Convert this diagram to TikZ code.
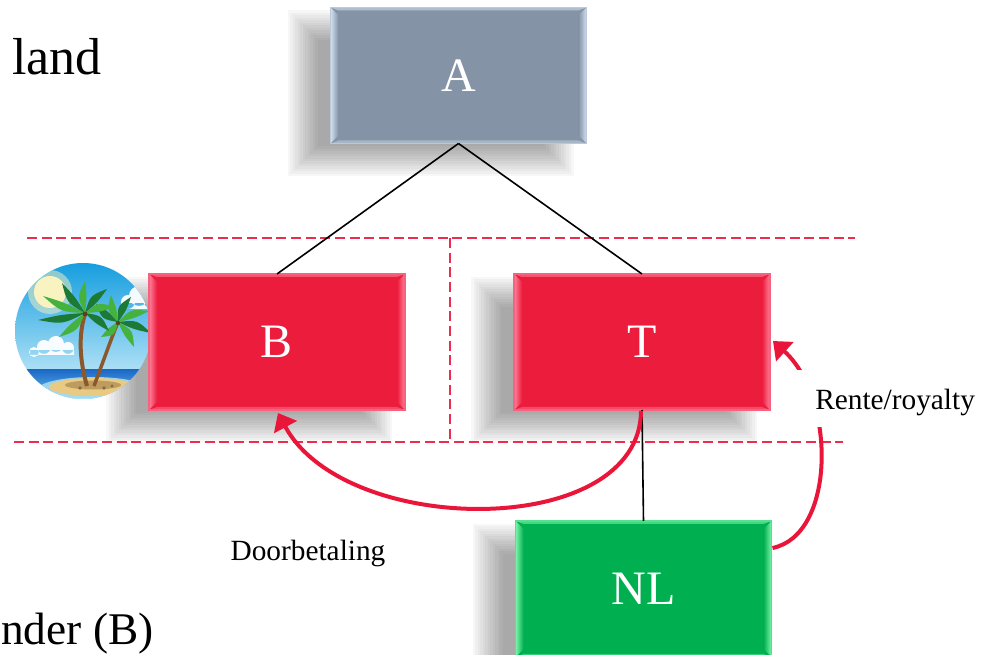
\documentclass[tikz,border=0pt]{standalone}
\usepackage{fontspec}
\setmainfont{Liberation Serif}
\usetikzlibrary{arrows.meta,calc,backgrounds}

% box colours
\definecolor{slate}{RGB}{132,148,166}
\definecolor{slatelight}{RGB}{210,224,240}
\definecolor{crimson}{RGB}{236,28,61}
\definecolor{crimsonlight}{RGB}{252,130,155}
\definecolor{leaf}{RGB}{0,176,80}
\definecolor{leaflight}{RGB}{125,245,170}
\definecolor{flowred}{RGB}{233,22,58}
\definecolor{borderred}{RGB}{236,45,78}
% island colours
\definecolor{skytop}{RGB}{15,155,222}
\definecolor{skylow}{RGB}{175,225,246}
\definecolor{sunfill}{RGB}{248,243,192}
\definecolor{seadeep}{RGB}{28,105,200}
\definecolor{seashallow}{RGB}{125,212,242}
\definecolor{sand}{RGB}{233,202,130}
\definecolor{sanddark}{RGB}{190,155,95}
\definecolor{bark}{RGB}{138,88,44}
\definecolor{palm}{RGB}{70,178,62}
\definecolor{palmdark}{RGB}{28,122,52}

\tikzset{
  entity/.style={rectangle, minimum width=192pt, minimum height=102pt,
    inner sep=0pt, outer sep=0pt, text=white, font=\fontsize{36}{40}\selectfont},
  tie/.style={draw=black, line width=1.2pt},
  border/.style={draw=borderred, line width=1.4pt, dash pattern=on 7.5pt off 3.5pt},
  flow/.style={draw=flowred, line width=3pt, -{Triangle[length=12pt,width=19pt]}},
  note/.style={font=\fontsize{22}{26}\selectfont, text=black, inner sep=0pt},
  big/.style={font=\fontsize{39}{44}\selectfont, inner sep=0pt},
}

% soft drop shadow behind a box: node, x offset, y offset
\newcommand{\dropshade}[3]{%
  \foreach \k in {0,...,12}{%
    \pgfmathsetmacro\nwx{#2+15-2.5*\k}%
    \pgfmathsetmacro\nwy{#3+15-2.5*\k}%
    \pgfmathsetmacro\sex{#2-15+2.5*\k}%
    \pgfmathsetmacro\sey{#3-15+2.5*\k}%
    \fill[black, opacity=0.03]
      ($(#1.north west)+(\nwx,\nwy)$) rectangle ($(#1.south east)+(\sex,\sey)$);
  }}

% bevelled edges of a box: node, base colour, light colour
\newcommand{\bevel}[3]{%
  \shade[left color=#3, right color=#2]
    (#1.north west) -- ($(#1.north west)+(8,8)$) -- ($(#1.south west)+(8,-8)$) -- (#1.south west) -- cycle;
  \shade[left color=#2, right color=#3]
    (#1.north east) -- ($(#1.north east)+(-8,8)$) -- ($(#1.south east)+(-8,-8)$) -- (#1.south east) -- cycle;
  \fill[#3!55!#2]
    (#1.north west) -- (#1.north east) -- ($(#1.north east)+(-8,3)$) -- ($(#1.north west)+(8,3)$) -- cycle;
  \fill[#3!45!#2]
    (#1.south west) -- (#1.south east) -- ($(#1.south east)+(-8,-3)$) -- ($(#1.south west)+(8,-3)$) -- cycle;
  \draw[#3!70!#2, line width=0.8pt] (#1.north west) rectangle (#1.south east);
}

% one palm frond from crown to tip
\newcommand{\frond}[3]{%
  \fill[#3] (#1) .. controls ($(#1)!0.5!(#2)!6pt!90:(#2)$) .. (#2)
    .. controls ($(#1)!0.5!(#2)!1.5pt!-90:(#2)$) .. (#1);
}

\begin{document}
\begin{tikzpicture}[x=0.75pt, y=-0.75pt]
\useasboundingbox (0,0) rectangle (986,655);

% jurisdiction separators
\coordinate (tl) at (27,238);
\coordinate (tr) at (855,238);
\coordinate (tm) at (450,238);
\coordinate (bl) at (14,442);
\coordinate (br) at (843,442);
\coordinate (bm) at (450,442);
\draw[border] (tl) -- (tr);
\draw[border] (tm) -- (bm);
\draw[border] (bl) -- (br);

% tropical island emblem
\begin{scope}
  \clip (83,331) circle[radius=68];
  \shade[top color=skytop, bottom color=skylow] (10,258) rectangle (160,372);
  \fill[sunfill, opacity=0.5] (50,292) circle[radius=22];
  \fill[sunfill] (50,292) circle[radius=16];
  % clouds
  \fill[white, opacity=0.95] (34,352) circle[radius=5] (44,347) circle[radius=7]
    (56,344) circle[radius=8] (68,348) circle[radius=6] (30,350) rectangle (74,355);
  \fill[white, opacity=0.95] (128,302) circle[radius=7] (139,296) circle[radius=10]
    (151,300) circle[radius=8] (124,303) rectangle (160,309);
  % sea
  \shade[top color=seadeep, bottom color=seashallow] (10,370) rectangle (160,405);
  \fill[seashallow!70!white] (10,398) rectangle (160,410);
  \fill[seashallow!60!white, opacity=0.8] (93,390) ellipse[x radius=56, y radius=13];
  % island
  \fill[sand] (93,387) ellipse[x radius=44, y radius=9];
  \fill[sanddark] (93,385) ellipse[x radius=28, y radius=4.5];
  \fill[sanddark!70!black] (80,388) circle[radius=1.8] (104,388) circle[radius=1.8] (112,386) circle[radius=1.6];
  % trunks
  \draw[bark, line width=2.6pt] (94,386) .. controls (103,362) and (110,342) .. (118,322);
  \draw[bark, line width=3pt] (87,386) .. controls (80,362) and (78,336) .. (85,314);
  % fronds, rear palm
  \frond{118,322}{96,304}{palmdark}
  \frond{118,322}{111,295}{palm}
  \frond{118,322}{131,297}{palmdark}
  \frond{118,322}{149,311}{palm}
  \frond{118,322}{151,333}{palmdark}
  \frond{118,322}{134,347}{palm}
  \frond{118,322}{101,337}{palm}
  \fill[bark!70!black] (118,323) circle[radius=2.2];
  % fronds, front palm
  \frond{85,313}{38,320}{palmdark}
  \frond{85,313}{43,296}{palm}
  \frond{85,313}{62,283}{palmdark}
  \frond{85,313}{85,281}{palm}
  \frond{85,313}{107,289}{palmdark}
  \frond{85,313}{115,307}{palm}
  \frond{85,313}{109,331}{palmdark}
  \frond{85,313}{59,337}{palm}
  \fill[bark!70!black] (85,314) circle[radius=2.4];
\end{scope}

% entities
\node[entity, fill=slate] (A) at (458.5,75.5) {};
\node[entity, fill=crimson] (B) at (277,342) {};
\node[entity, fill=crimson] (T) at (642,342) {};
\node[entity, fill=leaf] (NL) at (643.5,589) {};
\bevel{A}{slate}{slatelight}
\bevel{B}{crimson}{crimsonlight}
\bevel{T}{crimson}{crimsonlight}
\bevel{NL}{leaf}{leaflight}
\node[text=white, font=\fontsize{36}{40}\selectfont] at (A) {A};
\node[text=white, font=\fontsize{36}{40}\selectfont] at (B) {B};
\node[text=white, font=\fontsize{36}{40}\selectfont] at (T) {T};
\node[text=white, font=\fontsize{36}{40}\selectfont] at (NL) {NL};

\begin{pgfonlayer}{background}
  \dropshade{A}{-28}{18}
  \dropshade{B}{-28}{18}
  \dropshade{T}{-28}{18}
  \dropshade{NL}{-28}{18}
\end{pgfonlayer}

% ownership ties
\draw[tie] (A.south) -- (B.north);
\draw[tie] (A.south) -- (T.north);
\draw[tie] (T.south) -- (NL.north);

% payment flows
\draw[flow] ($(T.south)+(-1,1)$) .. controls (640,540) and (345,538) .. ($(B.south)+(1,3)$);
\draw[flow] ($(NL.north east)+(1,27)$) .. controls (836,535) and (836,398) .. ($(T.east)+(3,-1)$);

% labels
\node[note, anchor=base west, fill=white, inner xsep=15pt, inner ysep=0pt,
      text height=30pt, text depth=12.5pt] (rente) at (795,410) {Rente/royalty};
\node[note, anchor=base] (door) at (308,561) {Doorbetaling};
\node[big, anchor=base west] (land) at (12,75) {land};
\node[font=\fontsize{34}{40}\selectfont, inner sep=0pt, anchor=base west] (bnder) at (1,645) {nder (B)};
\end{tikzpicture}
\end{document}
